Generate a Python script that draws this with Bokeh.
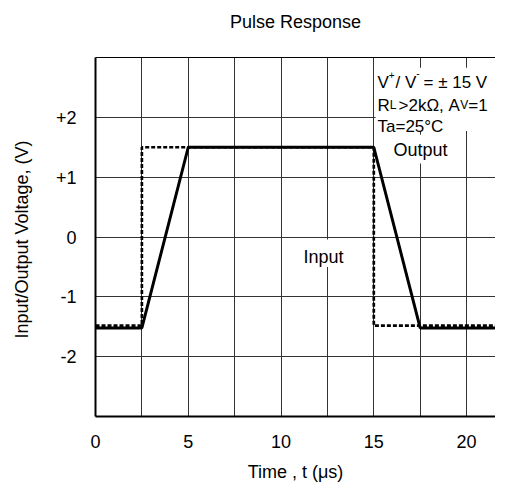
from bokeh.plotting import figure
from bokeh.models import FixedTicker, Label, BoxAnnotation, LinearAxis, Range1d
from bokeh.embed import file_html
from bokeh.resources import INLINE

# ---- data ----
x_ticks = [0, 5, 10, 15, 20]
x_grid = [2.5, 5, 7.5, 10, 12.5, 15, 17.5, 20]
y_ticks = [-2, -1, 0, 1, 2]
y_tick_labels = ["-2", "-1", "0", "+1", "+2"]

time_in = [0, 2.5, 2.5, 15, 15, 21.56]
volt_in = [-1.48, -1.48, 1.5, 1.5, -1.48, -1.48]

time_out = [0, 2.5, 5, 15, 17.5, 21.56]
volt_out = [-1.52, -1.52, 1.5, 1.5, -1.52, -1.52]

title_text = "Pulse Response"
x_title = "Time , t (\u03bcs)"
y_title = "Input/Output Voltage,  (V)"

FONT = "Liberation Sans"
FS = "18px"
FI = "17px"

p = figure(width=495, height=484, x_range=Range1d(0, 21.56), y_range=Range1d(-3, 3),
           output_backend="svg", toolbar_location=None,
           min_border_left=95, min_border_right=0, min_border_top=57, min_border_bottom=65)
p.outline_line_color = None
p.background_fill_color = "white"
p.border_fill_color = "white"

# axes
for ax in (p.xaxis[0], p.yaxis[0]):
    ax.axis_line_color = "black"
    ax.axis_line_width = 2
    ax.major_tick_line_color = None
    ax.minor_tick_line_color = None
    ax.major_label_text_font = FONT
    ax.major_label_text_font_size = FS
    ax.major_label_text_color = "black"
    ax.axis_label_text_font = FONT
    ax.axis_label_text_font_size = FS
    ax.axis_label_text_font_style = "normal"
    ax.axis_label_text_color = "black"

p.xaxis.ticker = FixedTicker(ticks=x_ticks)
p.xaxis.major_label_standoff = 12
p.xaxis.axis_label = x_title
p.xaxis.axis_label_standoff = 11

p.yaxis.ticker = FixedTicker(ticks=y_ticks)
p.yaxis.major_label_overrides = {t: l for t, l in zip(y_ticks, y_tick_labels)}
p.yaxis.major_label_standoff = 13
p.yaxis.axis_label = y_title
p.yaxis.axis_label_standoff = 21

# top border, carrying the chart title as its label
top_axis = LinearAxis(ticker=FixedTicker(ticks=[]), axis_line_color="black", axis_line_width=1,
                      major_tick_line_color=None, minor_tick_line_color=None,
                      major_tick_out=0, major_label_standoff=0,
                      major_label_text_color=None,
                      axis_label=title_text, axis_label_standoff=26,
                      axis_label_text_font=FONT, axis_label_text_font_size=FS,
                      axis_label_text_font_style="normal", axis_label_text_color="black")
p.add_layout(top_axis, "above")

# grids
p.xgrid.ticker = FixedTicker(ticks=x_grid)
p.ygrid.ticker = FixedTicker(ticks=y_ticks)
for g in (p.xgrid[0], p.ygrid[0]):
    g.grid_line_color = "#333333"
    g.grid_line_width = 1

# white label backgrounds (cover grid only)
for l, r, t, b in [(15.1, 21.56, 2.83, 1.77), (15.9, 19.25, 1.71, 1.23), (11.05, 13.53, -0.04, -0.5)]:
    p.add_layout(BoxAnnotation(left=l, right=r, top=t, bottom=b, fill_color="white", fill_alpha=1,
                               line_color=None, level="underlay"))

# curves
p.line(time_in, volt_in, line_color="black", line_width=2.7, line_dash="4 2")
p.line(time_out, volt_out, line_color="black", line_width=3)


def lab(text, x, y, size=FI, dx=0, dy=0, align="left", baseline="alphabetic"):
    p.add_layout(Label(x=x, y=y, text=text, x_offset=dx, y_offset=dy, text_font=FONT,
                       text_font_size=size, text_color="black", text_align=align,
                       text_baseline=baseline))


# info block
x0 = 15.2
lab("V", x0, 2.586)
lab("+", x0, 2.586, size="10px", dx=11.3, dy=7)
lab("/ V", x0, 2.586, dx=18)
lab("-", x0, 2.586, size="10px", dx=38.8, dy=9)
lab("= \u00b1 15 V", x0, 2.586, dx=46)

lab("R", x0, 2.204)
lab("L", x0, 2.204, size="12px", dx=12.3)
lab(">2k\u03a9, A", x0, 2.204, dx=21)
lab("V", x0, 2.204, size="12px", dx=82.7)
lab("=1", x0, 2.204, dx=90.7)

lab("Ta=25\u00b0C", x0, 1.84)

lab("Output", 17.52, 1.46, size=FS, align="center")
lab("Input", 12.29, -0.33, size=FS, align="center")

open("out.html", "w").write(file_html(p, INLINE))
